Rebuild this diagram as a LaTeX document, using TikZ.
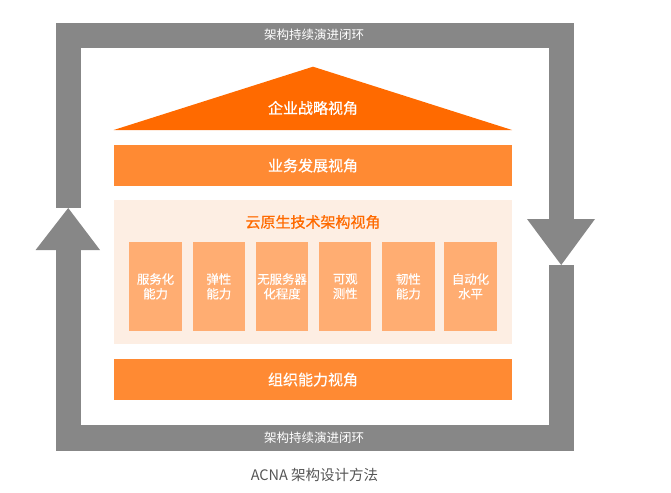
\documentclass[tikz,border=0pt]{standalone}
\usepackage{fontspec}
\setmainfont{Noto Sans CJK SC}
\newfontfamily\medfont[FakeBold=0.7]{Noto Sans CJK SC}
\newfontfamily\semifont[FakeBold=0.4]{Noto Sans CJK SC}
\begin{document}
\begin{tikzpicture}[x=1pt,y=-1pt,
  loopgray/.style={fill=frame,draw=none},
  bar/.style={fill=barorange,draw=none,minimum width=398.3pt,minimum height=40.7pt,inner sep=0pt,
    text=white,font=\medfont\fontsize{15}{15}\selectfont,anchor=north west},
  capbx/.style={fill=capbox,draw=none,minimum width=52.3pt,minimum height=89pt,inner sep=0pt,
    text=white,font=\semifont\fontsize{12.4}{14.7}\selectfont,align=center,anchor=north west},
  looptext/.style={text=white,font=\fontsize{12.5}{12.5}\selectfont,inner sep=0pt}]
\definecolor{frame}{HTML}{878787}
\definecolor{roof}{HTML}{FF6A00}
\definecolor{barorange}{HTML}{FF8A33}
\definecolor{panel}{HTML}{FDEEE3}
\definecolor{capbox}{HTML}{FFAD72}
\definecolor{captext}{HTML}{555555}
\useasboundingbox (0,0) rectangle (671,492);
% gray loop
\fill[loopgray] (55.8,23) rectangle (574,47.7);
\fill[loopgray] (55.8,23) rectangle (80.7,208);
\fill[loopgray] (55.8,250) rectangle (80.7,450.7);
\fill[loopgray] (55.8,425) rectangle (574,450.7);
\fill[loopgray] (548.5,23) rectangle (574,219);
\fill[loopgray] (548.5,265) rectangle (574,450.7);
\fill[loopgray] (35.6,250) -- (100,250) -- (68.2,208) -- cycle;
\fill[loopgray] (527,219) -- (595,219) -- (561.2,265) -- cycle;
\node[looptext] (toploop) at (314,34.5) {架构持续演进闭环};
\node[looptext] (botloop) at (314,438) {架构持续演进闭环};
% roof
\fill[roof] (113.7,130) -- (313,66.7) -- (512,130) -- cycle;
\node[text=white,font=\medfont\fontsize{15}{15}\selectfont,inner sep=0pt] (roof) at (313,108) {企业战略视角};
% business bar
\node[bar] (biz) at (113.7,145) {业务发展视角};
% cloud native panel
\node[fill=panel,draw=none,minimum width=398.3pt,minimum height=144pt,inner sep=0pt,anchor=north west] (panel) at (113.7,200) {};
\node[text=roof,font=\medfont\fontsize{15}{15}\selectfont,inner sep=0pt] (paneltitle) at (313,222) {云原生技术架构视角};
\node[capbx] (c1) at (129.2,241.7) {服务化\\能力};
\node[capbx] (c2) at (192.5,241.7) {弹性\\能力};
\node[capbx] (c3) at (255.7,241.7) {无服务器\\化程度};
\node[capbx] (c4) at (318.9,241.7) {可观\\测性};
\node[capbx] (c5) at (382.0,241.7) {韧性\\能力};
\node[capbx] (c6) at (444.2,241.7) {自动化\\水平};
% organisation bar
\node[bar] (org) at (113.7,359) {组织能力视角};
% caption
\node[text=captext,font=\fontsize{14.5}{14.5}\selectfont,inner sep=0pt] (caption) at (314.5,475) {ACNA 架构设计方法};
\end{tikzpicture}
\end{document}
